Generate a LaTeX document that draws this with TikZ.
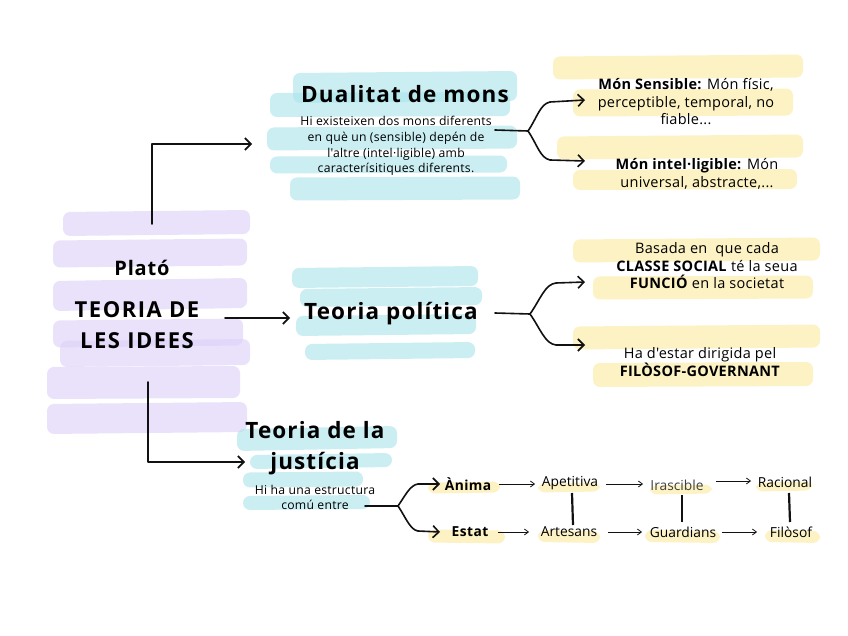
\documentclass[tikz,border=0pt]{standalone}
\usepackage{fontspec}
\setmainfont{Open Sans}[Ligatures=TeXOff]
\usetikzlibrary{arrows.meta}
\definecolor{lav}{HTML}{DCD0F7}
\definecolor{cya}{HTML}{A9E4EC}
\definecolor{yel}{HTML}{FBEA9C}
\definecolor{ink}{HTML}{111111}
\newcommand{\hl}[6]{\fill[#6,fill opacity=0.6,rounded corners=7pt] (#1,{#2-#5/2}) -- (#3,{#4-#5/2}) -- (#3,{#4+#5/2}) -- (#1,{#2+#5/2}) -- cycle;}
\tikzset{
  con/.style={draw=ink,line width=1.6pt,line cap=round,line join=round},
  arr/.style={con,-{Straight Barb[length=6pt,width=12pt,line width=1.6pt]}},
  sarr/.style={draw=ink,line width=0.8pt,-{Straight Barb[length=4pt,width=6pt,line width=0.8pt]}},
  vbar/.style={draw=ink,line width=2.2pt},
  ttl/.style={font=\fontsize{22.5}{31}\selectfont\bfseries\addfontfeature{LetterSpace=5},align=center,inner sep=1pt},
  sub/.style={font=\fontsize{12.2}{15.7}\selectfont\addfontfeature{LetterSpace=2},align=center,inner sep=1pt},
  ytxt/.style={font=\fontsize{14.5}{17.5}\selectfont\addfontfeature{LetterSpace=2},align=center,inner sep=1pt},
  row/.style={font=\fontsize{13.8}{16}\selectfont,inner sep=1pt},
  rowb/.style={font=\fontsize{13.8}{16}\selectfont\bfseries\addfontfeature{LetterSpace=3},inner sep=1pt},
}
\begin{document}
\begin{tikzpicture}[x=1pt,y=-1pt]
\useasboundingbox (0,0) rectangle (848,636);
\fill[white] (0,0) rectangle (848,636);
% purple strokes
\hl{63}{224}{250}{222}{24}{lav}
\hl{53}{254}{247}{252}{27}{lav}
\hl{53}{296}{247}{293}{30}{lav}
\hl{53}{334}{243}{332}{27}{lav}
\hl{60}{354}{250}{352}{26}{lav}
\hl{47}{383}{240}{382}{32}{lav}
\hl{47}{419}{247}{417}{30}{lav}
% cyan strokes dualitat
\hl{293}{88}{517}{86}{30}{cya}
\hl{270}{105}{510}{104}{24}{cya}
\hl{267}{139}{517}{137}{23}{cya}
\hl{270}{165}{507}{164}{17}{cya}
\hl{290}{189}{520}{188}{23}{cya}
% cyan strokes politica
\hl{292}{278}{478}{276}{20}{cya}
\hl{300}{298}{482}{296}{18}{cya}
\hl{296}{326}{476}{324}{20}{cya}
\hl{305}{352}{475}{350}{16}{cya}
% cyan strokes justicia
\hl{237}{440}{397}{437}{22}{cya}
\hl{250}{462}{392}{460}{14}{cya}
\hl{243}{480}{363}{479}{15}{cya}
\hl{243}{503}{370}{502}{14}{cya}
% yellow strokes
\hl{553}{68}{803}{66}{23}{yel}
\hl{573}{103}{793}{102}{27}{yel}
\hl{557}{148}{803}{146}{23}{yel}
\hl{573}{180}{797}{179}{20}{yel}
\hl{573}{251}{820}{249}{23}{yel}
\hl{593}{288}{813}{287}{23}{yel}
\hl{573}{338}{820}{336}{23}{yel}
\hl{593}{375}{813}{374}{24}{yel}
% small yellow highlights
\hl{428}{488}{500}{487}{11}{yel}
\hl{428}{536}{505}{537}{13}{yel}
\hl{538}{488}{600}{487}{9}{yel}
\hl{650}{490}{712}{489}{9}{yel}
\hl{756}{487}{812}{486}{9}{yel}
\hl{538}{536}{600}{537}{12}{yel}
\hl{645}{536}{720}{537}{12}{yel}
\hl{765}{536}{820}{537}{12}{yel}

% main node
\node[font=\fontsize{20}{22}\selectfont\bfseries\addfontfeature{LetterSpace=4},inner sep=1pt] (plato) at (142,268) {Plató};
\node[font=\fontsize{22}{31}\selectfont\bfseries\addfontfeature{LetterSpace=7},align=center,inner sep=1pt] (teoria) at (137,325) {TEORIA DE\\LES IDEES};
\coordinate (topstart) at (152,224);
\coordinate (botstart) at (148,382);
\coordinate (midstart) at (225,318);

% dualitat
\node[ttl] (dual) at (405,94) {Dualitat de mons};
\node[sub] (dualsub) at (396,146) {Hi existeixen dos mons diferents\\en què un (sensible) depén de\\l'altre (intel·ligible) amb\\caracterísitiques diferents.};
\node[ytxt] (sens) at (686,102) {\textbf{Món Sensible:} Món físic,\\perceptible, temporal, no\\fiable...};
\node[ytxt] (intel) at (697,174) {\textbf{Món intel·ligible:} Món\\universal, abstracte,...};

% politica
\node[ttl] (pol) at (391,314) {Teoria política};
\node[ytxt] (bas) at (707,266) {Basada en\ \ que cada\\\textbf{CLASSE SOCIAL} té la seua\\\textbf{FUNCIÓ} en la societat};
\node[ytxt] (fil) at (700,362) {Ha d'estar dirigida pel\\\textbf{FILÒSOF-GOVERNANT}};

% justicia
\node[font=\fontsize{22.5}{31}\selectfont\bfseries\addfontfeature{LetterSpace=5},align=center,inner sep=1pt] (just) at (315,448) {Teoria de la\\justícia};
\node[font=\fontsize{12.2}{15}\selectfont\addfontfeature{LetterSpace=2},align=center,inner sep=1pt] (justsub) at (315,497) {Hi ha una estructura\\comú entre};

% rows
\node[rowb] (anima) at (468,484) {Ànima};
\node[row] (apet) at (570,483) {Apetitiva};
\node[row,text=black!75] (iras) at (677,485) {Irascible};
\node[row] (rac) at (785,482) {Racional};
\node[rowb] (estat) at (470,532) {Estat};
\node[row] (arte) at (569,532) {Artesans};
\node[row] (guar) at (683,532) {Guardians};
\node[row] (filo) at (791,532) {Filòsof};

% main connectors
\draw[arr] (topstart) -- (152,144) -- (252,144);
\draw[arr] (midstart) -- (290,318);
\draw[arr] (botstart) -- (148,462) -- (245,462);

% dualitat branch
\coordinate (db) at (528,131);
\draw[con] (495,130) -- (db);
\draw[arr] (db) .. controls (537,118) and (540,104) .. (550,102) -- (585,100);
\draw[arr] (db) .. controls (537,144) and (540,158) .. (550,160) -- (585,161);

% politica branch
\coordinate (pb) at (530,314);
\draw[con] (495,313) -- (pb);
\draw[arr] (pb) .. controls (540,300) and (545,284) .. (556,283) -- (585,282);
\draw[arr] (pb) .. controls (540,328) and (545,344) .. (556,345) -- (585,345);

% justicia branch
\coordinate (jb) at (398,506);
\draw[con] (365,506) -- (jb);
\draw[arr] (jb) .. controls (405,496) and (410,485) .. (418,484) -- (440,484);
\draw[arr] (jb) .. controls (405,516) and (410,530) .. (418,531) -- (440,532);

% row arrows
\draw[sarr] (499,484) -- (535,484);
\draw[sarr] (606,484) -- (643,484);
\draw[sarr] (716,481) -- (751,481);
\draw[sarr] (498,532) -- (529,532);
\draw[sarr] (608,532) -- (642,532);
\draw[sarr] (722,532) -- (757,532);
\draw[vbar] (572,493) -- (573,525);
\draw[vbar] (682,495) -- (682,522);
\draw[vbar] (789,493) -- (790,522);
\end{tikzpicture}
\end{document}
